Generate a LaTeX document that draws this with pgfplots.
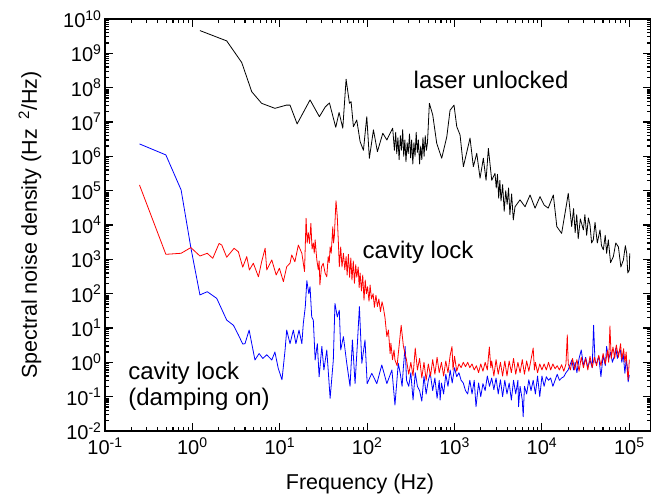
\documentclass[border=0pt]{standalone}
\usepackage{fontspec}
\setmainfont{Liberation Sans}
\usepackage{pgfplots}
\pgfplotsset{compat=1.18}
\newcommand{\ep}[1]{10\textsuperscript{#1}}
\begin{document}
\begin{tikzpicture}
\begin{axis}[
  at={(0pt,0pt)}, anchor=south west,
  scale only axis, width=546pt, height=412pt,
  xmode=log, ymode=log,
  xmin=0.1, xmax=1.77e5, ymin=1e-2, ymax=1e10,
  xtick={0.1,1,10,100,1000,10000,100000},
  xticklabels={\ep{-1},\ep{0},\ep{1},\ep{2},\ep{3},\ep{4},\ep{5}},
  minor xtick={0.2,0.3,0.4,0.5,0.6,0.7,0.8,0.9,2,3,4,5,6,7,8,9,20,30,40,50,60,70,80,90,200,300,400,500,600,700,800,900,2000,3000,4000,5000,6000,7000,8000,9000,20000,30000,40000,50000,60000,70000,80000,90000},
  ytick={1e-2,1e-1,1,10,100,1e3,1e4,1e5,1e6,1e7,1e8,1e9,1e10},
  yticklabels={\ep{-2},\ep{-1},\ep{0},\ep{1},\ep{2},\ep{3},\ep{4},\ep{5},\ep{6},\ep{7},\ep{8},\ep{9},\ep{10}},
  minor ytick={0.02,0.03,0.04,0.05,0.06,0.07,0.08,0.09,0.2,0.3,0.4,0.5,0.6,0.7,0.8,0.9,2,3,4,5,6,7,8,9,20,30,40,50,60,70,80,90,200,300,400,500,600,700,800,900,2000,3000,4000,5000,6000,7000,8000,9000,2e4,3e4,4e4,5e4,6e4,7e4,8e4,9e4,2e5,3e5,4e5,5e5,6e5,7e5,8e5,9e5,2e6,3e6,4e6,5e6,6e6,7e6,8e6,9e6,2e7,3e7,4e7,5e7,6e7,7e7,8e7,9e7,2e8,3e8,4e8,5e8,6e8,7e8,8e8,9e8,2e9,3e9,4e9,5e9,6e9,7e9,8e9,9e9},
  tick align=inside,
  major tick length=8pt, minor tick length=4.5pt,
  every tick/.style={black, line width=1.1pt},
  axis line style={line width=1.6pt},
  ticklabel style={font=\fontsize{20}{24}\selectfont},
  xticklabel style={yshift=-3pt},
  label style={font=\fontsize{21.5}{26}\selectfont},
  xlabel={Frequency (Hz)},
  xlabel style={at={(axis description cs:0.467,0)}, anchor=center, yshift=-53pt},
  ylabel={Spectral noise density (Hz\hspace{0.45em}\textsuperscript{2}/Hz)},
  ylabel style={at={(axis description cs:-0.1374,0.5)}, anchor=center, rotate=0},
]
% laser unlocked
\addplot[black, line width=0.8pt, line join=round] coordinates {
(1.22,4.6e9)(2.47,2.3e9)(3.67,5.4e8)(4.78,7.6e7)(6.2,3.5e7)(8.8,2.5e7)(11.9,3.1e7)(13.1,3.1e7)(15.8,8.8e6)(22.2,4.4e7)(28.4,1.43e7)(33,2.7e7)(37,3.6e7)(43.7,7e6)(47.7,1.9e7)(52.6,6.6e6)(57.4,1.76e8)(62.7,3.5e7)(65.5,3.9e7)(69.6,7.3e6)(76,1.15e7)(83,2.7e6)(90.6,1.5e6)(99,1.43e7)(106,8.8e5)(118,5.9e6)(131,1.37e6)(151,4.7e6)(168,3e6)(183,4.7e6)(196,6.6e6)
(205,1.5e6)(212,5e6)(218,1.2e6)(225,3.5e6)(232,8e5)(240,4e6)(247,1.5e6)(255,6e6)(262,1e6)(270,3e6)(278,7e5)(287,2.5e6)(295,1.2e6)(305,4.5e6)(314,9e5)(323,3e6)(333,6e5)(343,2.5e6)(353,1e6)(364,5e6)(375,1.3e6)(386,3e6)(398,6e5)(410,2e6)(422,8e5)(435,3.5e6)(448,1e6)(462,4e6)(476,1.5e6)(490,2.5e6)
(515,3.5e7)(563,1.6e7)(625,2.4e6)(713,8.8e5)(815,3.7e6)(888,2.2e7)(986,3.1e7)(1060,7.3e6)(1156,4.2e6)(1262,5e5)(1504,3.4e6)(1641,5e5)(1795,1.23e6)(1958,2.3e5)(2136,8.8e5)(2293,2e5)(2438,1.7e6)(2663,2e5)(2904,3.2e5)
(3000,1.2e5)(3100,3e5)(3200,6e4)(3300,2e5)(3400,5e4)(3550,1.5e5)(3700,2.5e4)(3850,1e5)(4000,4e4)(4150,1.2e5)(4300,2e4)(4500,8e4)(4700,1.4e4)(4920,3.4e4)(5610,5.4e4)(6410,3.4e4)(7310,7.5e4)(8340,3.1e4)(9500,6.7e4)(1.06e4,3.8e4)(1.18e4,3.1e4)(1.35e4,7.5e4)(1.48e4,9e3)(1.68e4,5.7e3)(1.92e4,4.3e4)(2e4,8.4e4)(2.19e4,9e3)
(2.3e4,3e4)(2.4e4,6e3)(2.5e4,2e4)(2.6e4,4e3)(2.75e4,1.5e4)(2.98e4,7.2e3)(3.1e4,2e4)(3.25e4,5e3)(3.4e4,1.6e4)(3.55e4,1e4)(3.7e4,3e3)(3.87e4,3.7e3)(4.05e4,1.2e4)(4.3e4,3e3)(4.62e4,7.2e3)(4.8e4,2.5e3)(5.04e4,1.9e3)(5.3e4,5e3)(5.5e4,1.5e3)(5.75e4,3.7e3)(6.1e4,8e2)(6.56e4,1.2e3)(7e4,3e3)(7.5e4,2.3e3)(8e4,6e2)(8.55e4,960)(9e4,2.5e3)(9.33e4,1.5e3)(9.6e4,4e2)(1e5,490)(1.01e5,1.5e3)
};
% cavity lock (damping on)
\addplot[blue, line width=0.8pt, line join=round] coordinates {
(0.248,2.3e6)(0.497,1.1e6)(0.743,1.05e5)(0.96,2.2e3)(1.22,92)(1.48,114)(1.9,73)(2.47,17)(2.95,12)(3.36,6.3)(3.77,3.4)(4.0,3.5)(4.46,8.7)(4.78,3.5)(5.2,1.17)(5.8,1.8)(6.4,1.3)(7.1,1.66)(8.1,1.17)(8.8,2.0)(9.6,0.67)(10.6,0.31)(11.5,2.3)(12.0,8.7)(13.1,3.5)(14.3,8.7)(15.3,3.5)(16.6,8.7)(17.9,3.5)(18.6,13.7)(19.6,42)(20.4,239)(21.5,100)(22.2,160)(23.2,21)(24.2,17)(25.4,1.17)(26.9,3.5)(28.2,0.38)(30.3,2.9)(32,0.6)(34.5,2.3)(37.7,0.09)(41,1.17)(42.8,52)(45.5,21)(48,33)(49.8,2.3)(53.5,5.6)(58.4,0.94)(63.7,0.2)(67.8,4.5)(72.7,0.24)(77.3,3.5)(81.5,42)(86.9,0.94)(94.5,4.5)(100,0.24)(113,0.48)(129,0.24)(147,0.84)(168,0.24)(192,0.6)(208,0.057)(227,0.94)
(239,0.48)(251,0.2)(260,0.75)(272,2.9)(282,0.3)(299,0.2)(316,0.5)(335,0.08)(355,0.5)(376,0.2)(398,0.15)(422,0.074)(447,0.4)(473,0.12)(501,0.3)(527,0.48)(562,0.15)(596,0.35)(631,0.09)(668,0.3)(684,0.08)(708,0.25)(750,0.12)(794,0.45)(841,0.2)(891,0.6)(940,0.25)
(1000,0.7)(1059,0.38)(1122,0.5)(1189,0.3)(1259,0.25)(1334,0.15)(1413,0.12)(1496,0.3)(1585,0.12)(1679,0.3)(1760,0.051)(1884,0.25)(1995,0.1)(2113,0.24)(2239,0.15)(2371,0.4)(2512,0.2)(2661,0.35)(2818,0.16)(2985,0.35)(3162,0.12)(3350,0.31)(3548,0.1)(3758,0.3)(3981,0.12)(4217,0.25)(4467,0.08)(4732,0.3)(5012,0.12)(5309,0.3)(5400,0.051)(5623,0.2)(5957,0.08)(6100,0.026)(6310,0.2)(6683,0.12)(7079,0.31)(7499,0.15)(7943,0.3)(8414,0.12)(8913,0.4)(9441,0.1)
(1.0e4,0.4)(1.059e4,0.2)(1.122e4,0.38)(1.189e4,0.3)(1.259e4,0.35)(1.334e4,0.2)(1.413e4,0.3)(1.496e4,0.45)(1.585e4,0.3)(1.679e4,0.35)(1.778e4,0.38)(1.884e4,0.5)(1.995e4,0.6)(2.113e4,0.9)(2.2e4,1.17)(2.3e4,0.6)(2.4e4,1.0)(2.512e4,0.5)(2.661e4,1.3)(2.818e4,2.3)(2.985e4,0.8)(3.162e4,1.4)(3.35e4,0.7)(3.548e4,1.17)(3.758e4,0.7)(3.9e4,12)(4.05e4,1.0)(4.217e4,0.94)(4.467e4,1.5)(4.732e4,0.38)(5.012e4,1.6)(5.309e4,0.8)(5.5e4,2.9)(5.8e4,1.2)(6.1e4,2.0)(6.4e4,1.0)(6.7e4,1.46)(7.0e4,2.6)(7.3e4,1.3)(7.6e4,2.0)(7.9e4,2.3)(8.2e4,1.0)(8.5e4,1.8)(8.9e4,0.48)(9.2e4,1.2)(9.5e4,0.7)(9.7e4,0.27)(1.0e5,0.43)
};
% cavity lock
\addplot[red, line width=0.8pt, line join=round] coordinates {
(0.248,1.47e5)(0.497,1.4e3)(0.743,1.5e3)(0.96,2.2e3)(1.22,1.25e3)(1.48,1.5e3)(1.71,1.07e3)(2.02,2.9e3)(2.17,2.6e3)(2.47,1.15e3)(3.0,2.1e3)(3.36,1.66e3)(3.77,590)(4.19,1.2e3)(4.49,490)(4.98,770)(5.7,310)(6.2,850)(6.8,2.1e3)(7.1,490)(8.1,960)(9.1,350)(9.9,550)(11.0,224)(12.0,610)(13.1,770)(13.7,1.34e3)(14.9,850)(16.3,2.6e3)(17.9,1.5e3)
(19.2,440)(20.0,1.57e4)(20.6,3e3)(21.2,6e3)(21.9,2.9e3)(22.7,1.12e4)(23.4,2e3)(24.2,3e3)(24.8,1.5e3)(25.4,3.7e3)(26.5,1e3)(27.6,490)(28.2,900)(28.8,180)(30,600)(31.4,770)(33,400)(34.5,310)(35.8,1.2e3)(36.8,800)(37.7,2.3e3)(38.8,1.5e3)(40.4,8.9e3)(41.2,3e3)(42.1,4.6e3)(43,1.5e4)(44,5.1e4)
(45.5,1.75e4)(47,2.5e3)(48,610)(49.8,2.3e3)(51.5,600)(53.5,1.5e3)(55.5,500)(57.4,1.2e3)(59,350)(61,1.4e3)(63,300)(65,1.1e3)(67,250)(69.4,900)(71.5,200)(74,700)(76,300)(79,600)(81,150)(83,400)(86,120)(89,350)(92,65)(95,250)(98,100)(101,160)(105,60)(108,180)(112,70)(117,100)(121,40)(126,90)(131,42)(136,70)(142,30)(148,58)(153,40)(160,20)(168,5.6)(175,8.7)(183,1.8)(187,3.6)(195,1.2)(203,2.3)(208,1.17)(220,0.8)(245,12)(260,2.9)
(282,1.17)(299,0.45)(316,1.0)(335,0.4)(355,2.6)(376,0.6)(398,1.3)(422,0.35)(447,1.0)(473,0.3)(501,0.9)(531,0.4)(562,1.2)(596,0.45)(631,1.4)(668,0.5)(708,1.0)(750,0.4)(794,1.1)(841,0.5)(891,1.6)(935,2.9)(960,0.6)
(1000,1.5)(1059,0.55)(1122,0.9)(1189,0.7)(1259,1.0)(1334,0.75)(1413,1.0)(1496,0.7)(1585,0.9)(1679,0.6)(1778,0.8)(1884,0.5)(1995,0.9)(2113,0.55)(2239,1.0)(2371,0.6)(2500,2.8)(2600,0.7)(2661,1.1)(2818,0.4)(2985,1.2)(3162,0.45)(3350,1.0)(3548,0.4)(3758,1.1)(3981,0.4)(4217,1.1)(4467,0.5)(4732,1.3)(5012,0.45)(5309,1.0)(5623,0.5)(5957,1.2)(6310,0.45)(6683,1.1)(7079,0.55)(7499,1.2)(7943,2.6)(8200,0.6)(8414,1.0)(8913,0.5)(9441,0.9)
(1.0e4,0.6)(1.059e4,0.9)(1.122e4,0.6)(1.189e4,1.0)(1.259e4,0.6)(1.334e4,0.9)(1.413e4,0.65)(1.496e4,0.8)(1.585e4,0.6)(1.679e4,0.85)(1.778e4,0.55)(1.884e4,0.9)(1.95e4,6.3)(2.0e4,0.9)(2.113e4,0.6)(2.239e4,1.3)(2.371e4,0.6)(2.512e4,1.2)(2.661e4,0.55)(2.818e4,1.4)(2.985e4,0.7)(3.162e4,1.3)(3.35e4,0.6)(3.548e4,1.5)(3.758e4,0.7)(3.981e4,1.4)(4.217e4,0.8)(4.467e4,1.6)(4.732e4,0.8)(5.012e4,1.8)(5.309e4,0.9)(5.623e4,2.2)(5.8e4,1.0)(6.0e4,11.5)(6.2e4,1.3)(6.5e4,2.8)(6.8e4,1.3)(7.1e4,3.2)(7.5e4,1.4)(7.94e4,3.5)(8.2e4,1.2)(8.6e4,2.5)(8.9e4,1.0)(9.2e4,2.0)(9.44e4,0.6)(9.7e4,0.31)(1.0e5,1.2)
};
\node[font=\fontsize{24}{28}\selectfont, inner sep=0pt] at (axis cs:2617,1.67e8) {laser unlocked};
\node[font=\fontsize{24}{28}\selectfont, inner sep=0pt] at (axis cs:382,1.64e3) {cavity lock};
\node[font=\fontsize{24}{26}\selectfont, inner sep=0pt, anchor=west, align=left] at (axis cs:0.184,0.205) {cavity lock\\(damping on)};
\end{axis}
\pgfresetboundingbox
\path[use as bounding box] (-105pt,-65pt) rectangle (546pt,431pt);
\end{tikzpicture}
\end{document}
